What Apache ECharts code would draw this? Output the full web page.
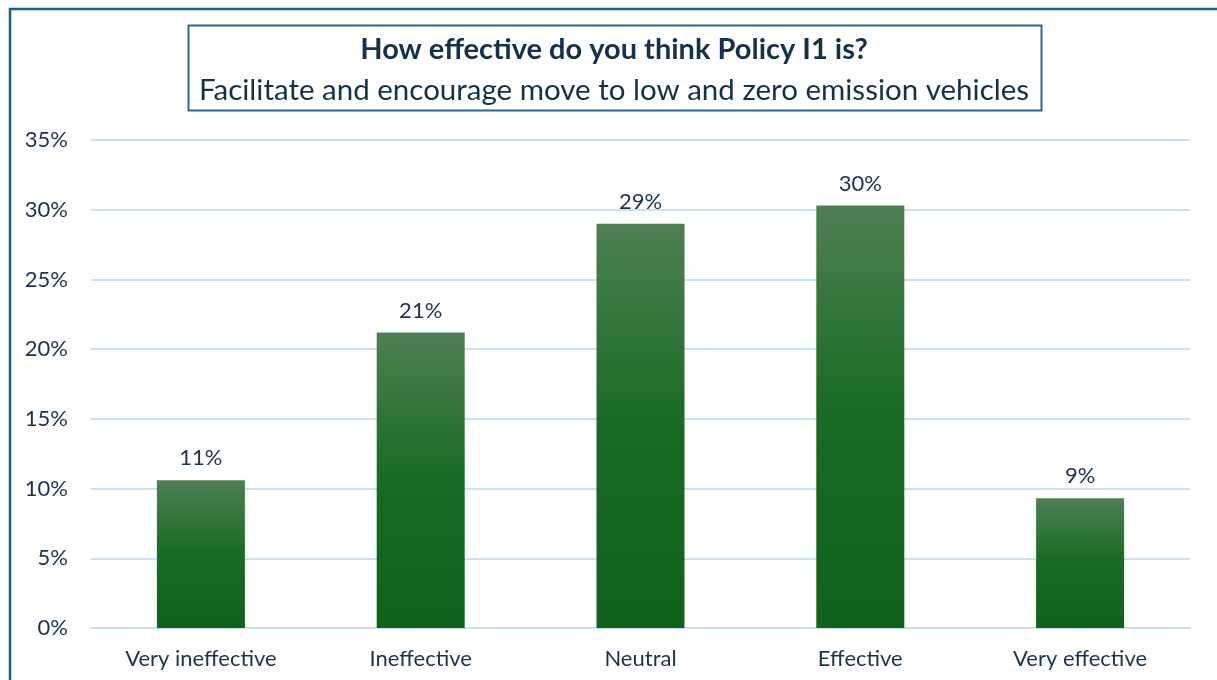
<!DOCTYPE html>
<html>
<head>
<meta charset="utf-8">
<script src="https://cdn.jsdelivr.net/npm/echarts@6/dist/echarts.min.js"></script>
<style>
html,body{margin:0;padding:0;background:#fff;}
#chart{width:1217px;height:680px;}
</style>
</head>
<body>
<div id="chart"></div>
<script>
const categories = ['Very ineffective', 'Ineffective', 'Neutral', 'Effective', 'Very effective'];
const values = [10.6, 21.2, 29.0, 30.3, 9.3];
const yTicks = [0, 5, 10, 15, 20, 25, 30, 35];
const titleText = 'How effective do you think Policy I1 is?';
const subtitleText = 'Facilitate and encourage move to low and zero emission vehicles';

const textColor = '#1c3350';
const font = 'Lato, "Open Sans", sans-serif';

const chart = echarts.init(document.getElementById('chart'), null, {renderer: 'canvas'});
chart.setOption({
  backgroundColor: '#ffffff',
  animation: false,
  graphic: [
    {type: 'rect', shape: {x: 10, y: 9, width: 1300, height: 800},
     style: {fill: 'none', stroke: '#17648a', lineWidth: 2.5}, z: 10},
    {type: 'rect', shape: {x: 188.5, y: 25.5, width: 853, height: 85},
     style: {fill: '#ffffff', stroke: '#2b6a8c', lineWidth: 2}, z: 10},
    {type: 'text', style: {
      text: titleText, x: 614, y: 50, textAlign: 'center', textVerticalAlign: 'middle',
      font: 'bold 29px ' + font, fill: '#15304d'}, z: 11},
    {type: 'text', style: {
      text: subtitleText, x: 614, y: 90, textAlign: 'center', textVerticalAlign: 'middle',
      font: '29.5px ' + font, fill: '#15304d'}, z: 11}
  ],
  grid: {left: 91, right: 27, top: 140, bottom: 52, containLabel: false},
  xAxis: {
    type: 'category',
    data: categories,
    axisLine: {show: true, lineStyle: {color: '#cddff3', width: 2}},
    axisTick: {show: false},
    axisLabel: {color: textColor, fontSize: 22, fontFamily: font, margin: 20}
  },
  yAxis: {
    type: 'value',
    min: yTicks[0], max: yTicks[yTicks.length - 1], interval: 5,
    axisLine: {show: false},
    axisTick: {show: false},
    splitLine: {lineStyle: {color: '#cddff3', width: 2}},
    axisLabel: {color: textColor, fontSize: 22, fontFamily: font, margin: 23,
      formatter: v => v + '%'}
  },
  series: [{
    type: 'bar',
    data: values,
    barWidth: 88,
    itemStyle: {
      color: new echarts.graphic.LinearGradient(0, 0, 0, 1, [
        {offset: 0, color: '#4e8052'},
        {offset: 0.5, color: '#176b22'},
        {offset: 1, color: '#0e621a'}
      ])
    },
    label: {
      show: true, position: 'top', distance: 11,
      color: textColor, fontSize: 22, fontFamily: font,
      formatter: p => Math.round(p.value) + '%'
    }
  }]
});
</script>
</body>
</html>
